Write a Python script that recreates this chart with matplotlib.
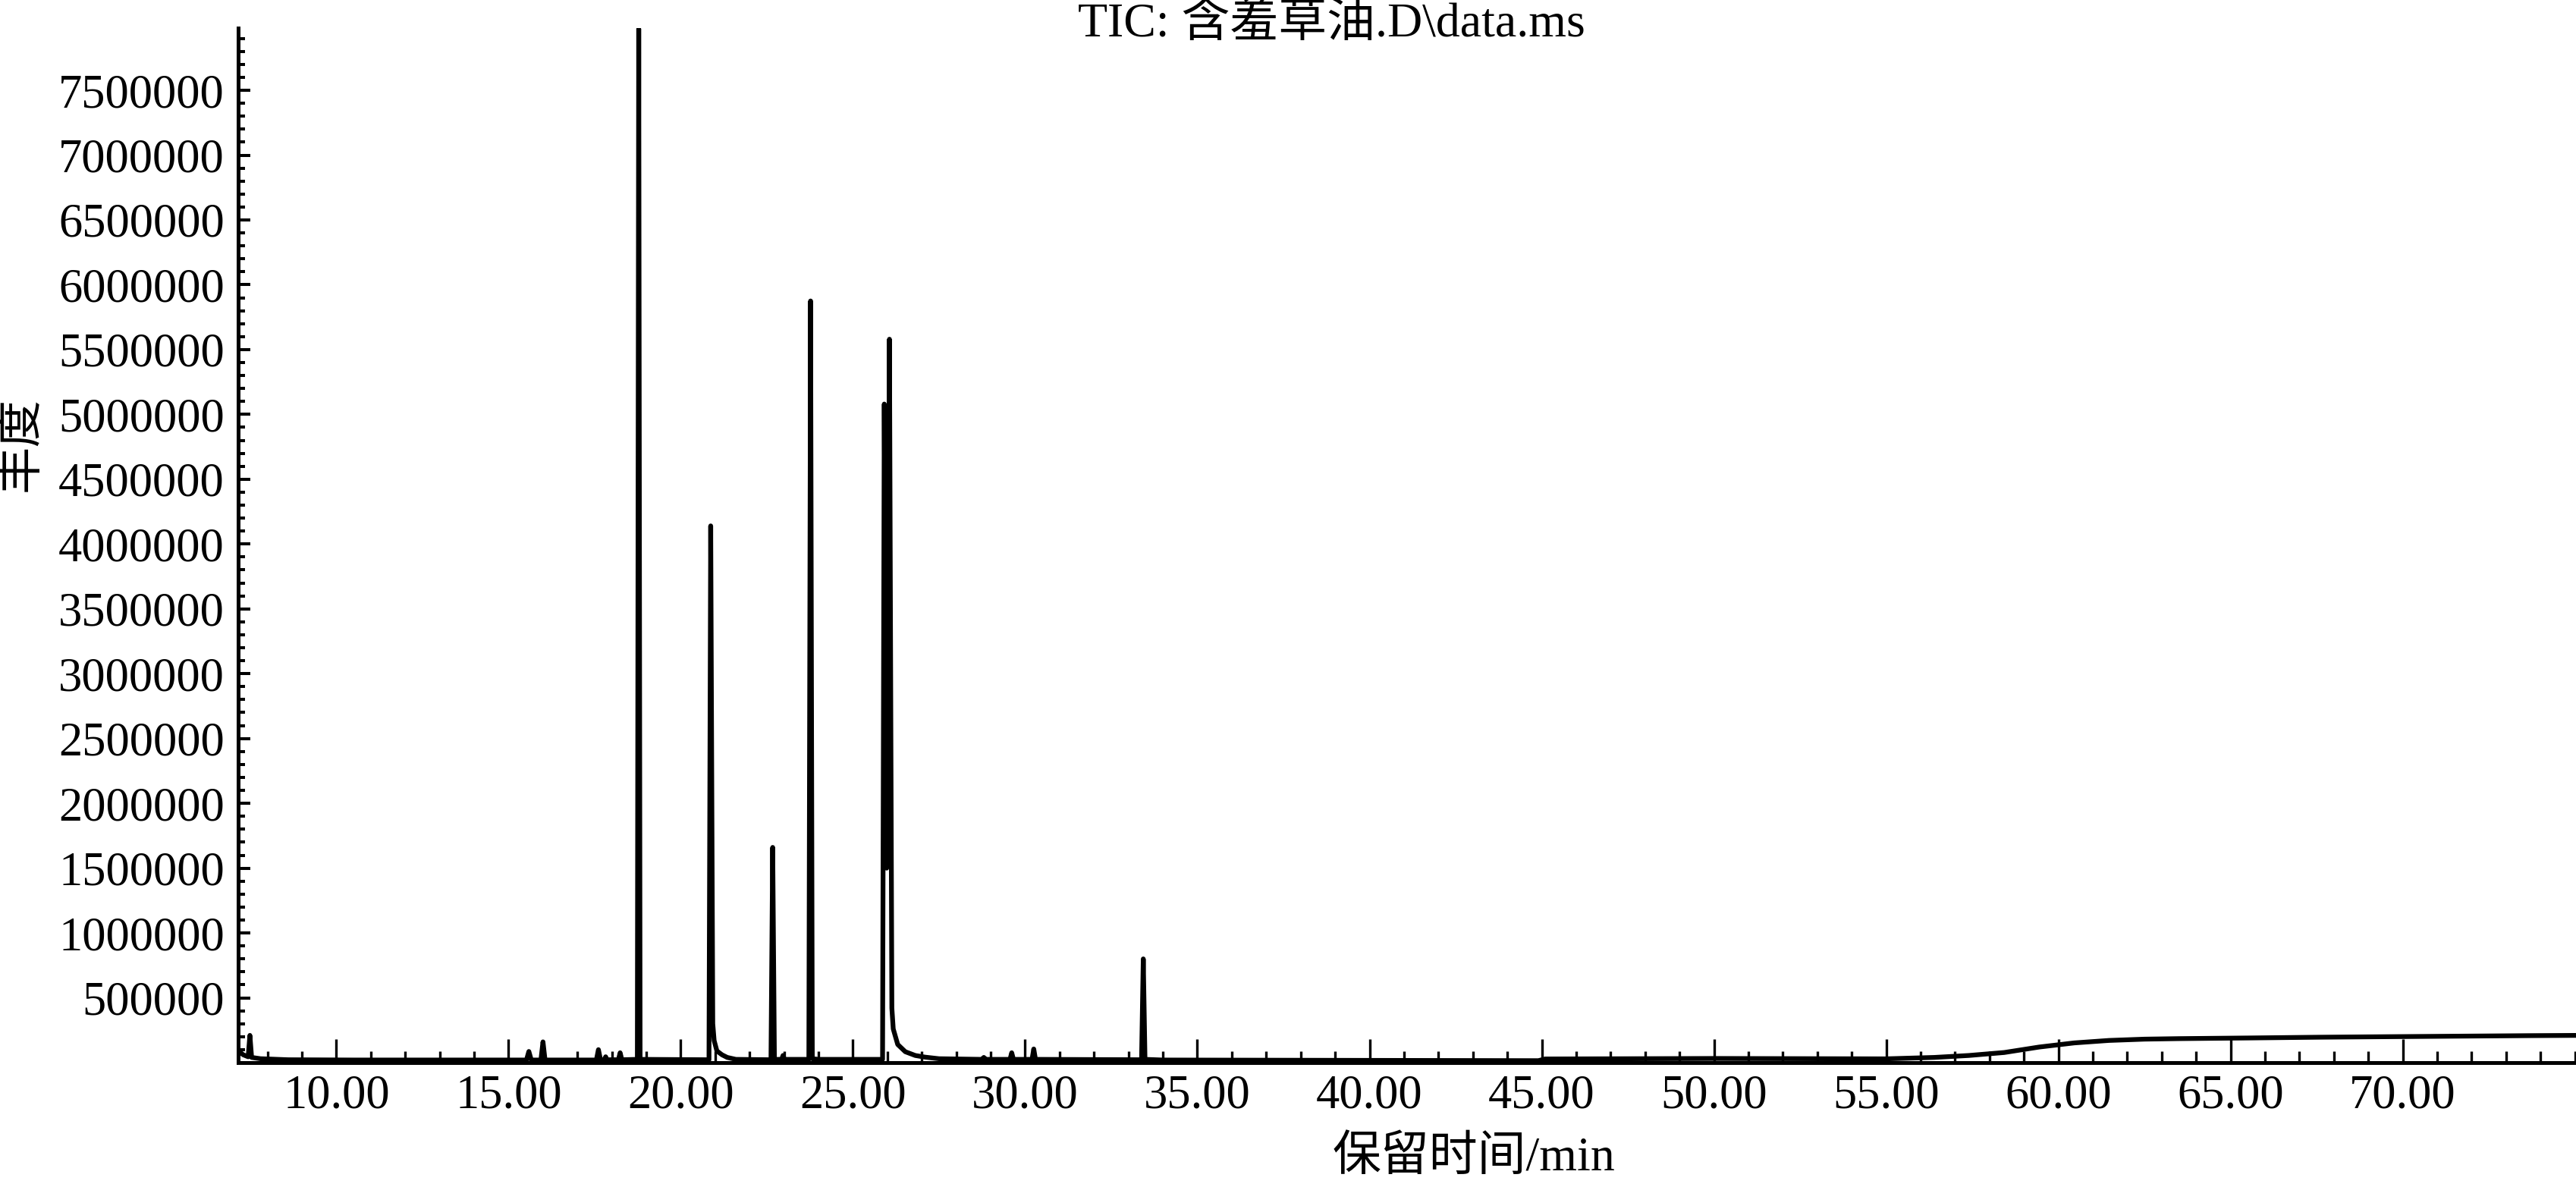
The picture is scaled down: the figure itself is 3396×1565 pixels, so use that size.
import matplotlib
matplotlib.use('Agg')
import matplotlib.pyplot as plt
from matplotlib.ticker import MultipleLocator, FixedLocator, FormatStrFormatter

plt.rcParams['font.family'] = ['Liberation Serif', 'Noto Sans CJK SC']
plt.rcParams['axes.unicode_minus'] = False

# 色谱图数据 (保留时间 min, 丰度)
rt_min = [7.15, 7.30, 7.44, 7.49, 7.54, 7.80, 8.60, 10.50,
          15.52, 15.59, 15.66, 15.94, 16.00, 16.06,
          17.55, 17.61, 17.67, 17.78, 17.82, 17.86, 18.19, 18.24, 18.29,
          18.74, 18.78, 18.82,
          20.82, 20.87, 20.93, 20.97, 21.05, 21.20, 21.35, 21.60,
          22.62, 22.67, 22.72, 22.93, 22.97, 23.01,
          23.72, 23.77, 23.82, 24.00,
          25.86, 25.91, 25.98, 26.06, 26.13, 26.17, 26.30, 26.52, 26.81, 27.10, 27.50,
          28.75, 28.80, 28.85, 29.56, 29.61, 29.66, 30.20, 30.25, 30.30,
          33.38, 33.43, 33.48, 34.00, 44.90, 45.10, 50.00,
          54.97, 56.40, 57.40, 58.43, 59.44, 60.46, 61.47, 62.50, 63.50,
          65.50, 67.60, 69.60, 71.60, 73.70, 75.10]
abundance = [90000, 60000, 45000, 210000, 40000, 30000, 22000, 20000,
             20000, 86000, 20000, 20000, 160000, 20000,
             20000, 100000, 22000, 22000, 45000, 22000, 22000, 76000, 22000,
             25000, 7975000, 25000,
             22000, 4140000, 300000, 170000, 90000, 60000, 40000, 25000,
             22000, 1660000, 25000, 25000, 55000, 25000,
             25000, 5875000, 30000, 25000,
             25000, 5080000, 1500000, 5580000, 420000, 260000, 140000, 84000, 55000, 42000, 30000,
             25000, 40000, 25000, 25000, 76000, 25000, 25000, 105000, 25000,
             22000, 800000, 25000, 20000, 15000, 28000, 32000,
             29000, 40000, 55000, 78000, 120000, 152000, 171000, 181000, 185000,
             190000, 196000, 200000, 204000, 208000, 210000]

x_major = [10, 15, 20, 25, 30, 35, 40, 45, 50, 55, 60, 65, 70]
y_major = [500000 * k for k in range(1, 16)]

fig = plt.figure(figsize=(33.96, 15.65), dpi=100)
ax = fig.add_axes([314 / 3396, 1 - 1401 / 1565, 1 - 314 / 3396, (1401 - 37) / 1565])

ax.plot(rt_min, abundance, color='black', linewidth=4.5,
        solid_joinstyle='round', solid_capstyle='round')

ax.set_xlim(7.15, 75.03)
ax.set_ylim(0, 7.98e6)

# 坐标轴样式
ax.spines['right'].set_visible(False)
ax.spines['top'].set_visible(False)
ax.spines['left'].set_linewidth(3.6)
ax.spines['bottom'].set_linewidth(3.6)

ax.xaxis.set_major_locator(FixedLocator(x_major))
ax.xaxis.set_minor_locator(MultipleLocator(1))
ax.xaxis.set_major_formatter(FormatStrFormatter('%.2f'))
ax.yaxis.set_major_locator(FixedLocator(y_major))
ax.yaxis.set_minor_locator(MultipleLocator(100000))
ax.yaxis.set_major_formatter(FormatStrFormatter('%d'))

ax.tick_params(axis='y', which='major', direction='in', length=11.5, width=2.9,
               pad=13, labelsize=45)
ax.tick_params(axis='y', which='minor', direction='in', length=6.5, width=2.9)
ax.tick_params(axis='x', which='major', direction='in', length=22, width=2.4,
               pad=11, labelsize=45)
ax.tick_params(axis='x', which='minor', direction='in', length=11, width=2.4)

# 标题和坐标轴标题
fig.text(1755 / 3396, 1 - 32 / 1565, 'TIC: 含羞草油.D\\data.ms',
         ha='center', va='center', fontsize=46)
fig.text(1943 / 3396, 1 - 1528 / 1565, '保留时间/min',
         ha='center', va='center', fontsize=46)
fig.text(30 / 3396, 1 - 585 / 1565, '丰度', rotation=90,
         ha='center', va='center', fontsize=45)

fig.savefig('out.png', dpi=100)
